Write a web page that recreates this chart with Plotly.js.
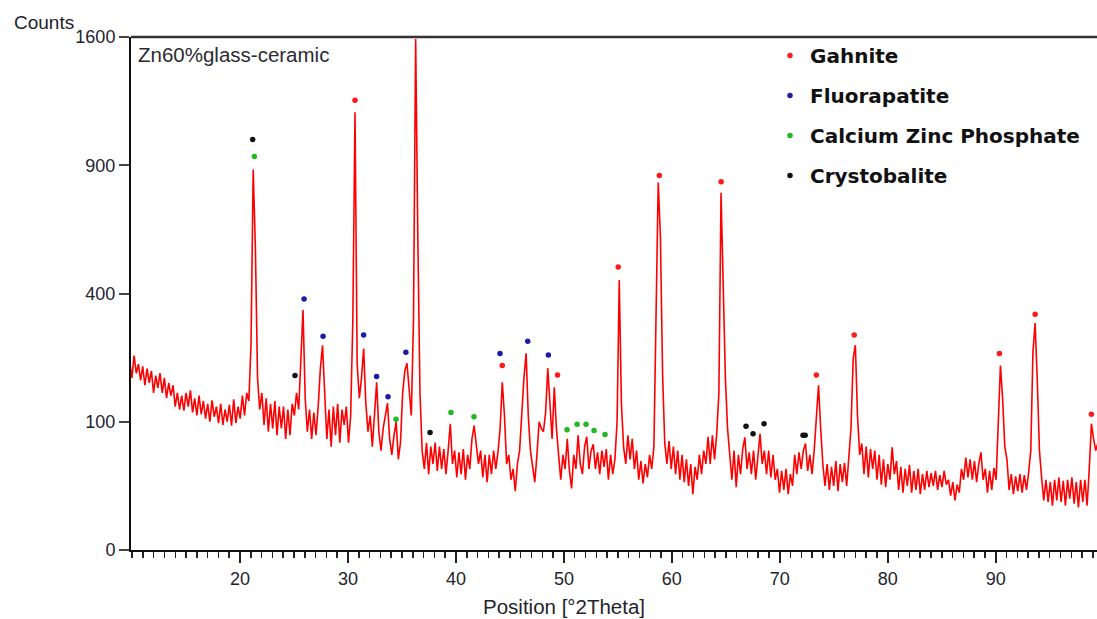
<!DOCTYPE html>
<html>
<head>
<meta charset="utf-8">
<script src="https://cdn.plot.ly/plotly-3.0.1.min.js"></script>
<style>
  html, body { margin: 0; padding: 0; background: #ffffff; }
  #chart { width: 1097px; height: 619px; }
</style>
</head>
<body>
<div id="chart"></div>
<script>
// Measurement grid (°2Theta) of the scan
const twoThetaStart = 9.7835;
const twoThetaStep = 0.20063;

// Counts, one per grid step
const counts = [
  215,180,230,190,210, 175,205,165,200,170, 195,150,185,160,190, 150,180,140,170,145,
  165,125,150,120,145, 118,150,125,155,115, 140,110,145,112,135, 105,130,100,136,108,
  125,98,130,95,120,   100,128,94,138,98,   125,105,145,110,150, 135,260,880,560,180,
  120,150,95,140,85,   130,90,135,80,125,   90,125,75,120,80,    130,110,150,120,240,
  350,140,85,120,75,   115,80,125,200,255,  140,75,120,65,125,   80,130,70,120,95,
  125,70,110,320,1165, 210,140,180,247,130, 85,110,65,110,171,   85,60,90,110,131,
  75,55,80,100,50,     70,150,195,212,150,  110,320,1588,600,150, 60,40,70,35,65,
  45,70,38,65,40,      62,35,60,97,45,      60,32,58,35,62,      30,55,40,75,94,
  65,45,60,32,55,      28,55,35,60,40,      58,90,171,110,45,    55,30,40,21,45,
  60,120,180,235,110,  60,40,28,55,100,     90,85,115,201,130,   75,161,90,55,30,
  55,40,75,38,23,      55,40,80,45,35,      65,78,40,60,68,      40,58,35,60,42,
  62,30,55,35,50,      100,443,130,65,45,   80,50,75,40,60,      30,48,27,45,32,
  55,40,65,420,821,    600,190,70,45,72,    40,65,35,60,30,      55,28,50,25,45,
  19,42,30,55,35,      60,45,78,45,80,      50,82,150,776,430,   180,90,55,30,60,
  24,55,35,62,77,      40,58,35,60,30,      50,82,45,60,35,      60,32,55,30,40,
  20,38,22,40,19,      35,25,55,35,58,      40,60,69,38,55,      35,60,110,165,90,
  45,25,45,22,42,      25,48,21,45,28,      46,25,50,90,223,     255,110,55,69,35,
  65,32,62,40,60,      30,55,26,50,24,      45,30,64,35,48,      22,42,20,40,25,
  44,20,38,22,40,      19,35,22,38,24,      36,25,38,22,34,      24,38,26,30,18,
  28,15,26,20,40,      30,52,32,50,30,      48,28,45,58,30,      40,20,38,22,41,
  30,100,207,140,65,   50,22,35,19,33,      21,35,20,34,22,      36,60,238,313,175,
  60,32,15,30,14,      28,12,30,15,32,      14,29,12,30,16,      32,13,28,11,30,
  14,30,12,40,97,      75,60,70
];

// Phase markers (position °2Theta, counts)
const gahniteTheta  = [30.65, 36.22, 44.29, 49.41, 55.03, 58.84, 64.56, 73.38, 76.89, 90.34, 93.65, 98.86];
const gahniteCounts = [1230, 1663, 207, 186, 487, 853, 825, 186, 281, 235, 338, 112];

const fluorTheta  = [25.93, 27.69, 31.45, 32.65, 33.71, 35.36, 44.08, 46.65, 48.56];
const fluorCounts = [383, 278, 281, 183, 143, 238, 235, 265, 231];

const czpTheta  = [21.33, 34.45, 39.54, 41.67, 50.29, 51.22, 52.05, 52.79, 53.81];
const czpCounts = [941, 104, 115, 108, 88, 96, 96, 87, 81];

const crystTheta  = [21.17, 25.09, 37.6, 66.87, 67.52, 68.54, 72.15, 72.35];
const crystCounts = [1025, 185, 84, 93, 82, 97, 80, 80];

// Axis ticks
const yTickCounts = [0, 100, 400, 900, 1600];
const xTickVals = [20, 30, 40, 50, 60, 70, 80, 90];

// ---- build ----
const twoTheta = counts.map((_, i) => +(twoThetaStart + i * twoThetaStep).toFixed(3));
const sq = a => a.map(v => Math.sqrt(v));   // square-root intensity scale

const textFont = 'Liberation Sans, Arial, sans-serif';
const textColor = '#23232e';

function phaseTrace(name, xs, ys, color, grp) {
  return {
    type: 'scatter', mode: 'markers', name: name,
    x: xs, y: sq(ys), legendgroup: grp,
    marker: { size: 5.5, color: color },
    cliponaxis: false, hoverinfo: 'skip'
  };
}

const traces = [
  {
    type: 'scatter', mode: 'lines', name: 'Zn60%glass-ceramic',
    x: twoTheta, y: sq(counts), showlegend: false,
    line: { color: '#ff0000', width: 1.6 }, hoverinfo: 'skip'
  },
  phaseTrace('Gahnite', gahniteTheta, gahniteCounts, '#ff1a1a', 'g1'),
  phaseTrace('Fluorapatite', fluorTheta, fluorCounts, '#1c1ca8', 'g2'),
  phaseTrace('Calcium Zinc Phosphate', czpTheta, czpCounts, '#22b822', 'g3'),
  phaseTrace('Crystobalite', crystTheta, crystCounts, '#111111', 'g4')
];

const W = 1097, H = 619, L = 131, R = 0, T = 37, B = 69;
const pw = W - L - R, ph = H - T - B;
const px2x = p => (p - L) / pw;
const py2y = p => 1 - (p - T) / ph;

const layout = {
  width: W, height: H,
  margin: { l: L, r: R, t: T, b: B, pad: 0 },
  paper_bgcolor: '#ffffff', plot_bgcolor: '#ffffff',
  showlegend: true,
  legend: {
    x: px2x(770), xanchor: 'left', y: py2y(36), yanchor: 'top',
    bgcolor: 'rgba(0,0,0,0)', borderwidth: 0,
    font: { family: 'DejaVu Sans, sans-serif', size: 20, weight: 'bold', color: '#111111' },
    tracegroupgap: 11, traceorder: 'grouped', itemsizing: 'trace'
  },
  xaxis: {
    range: [9.9, 99.38], showgrid: false, zeroline: false,
    showline: true, linecolor: '#111111', linewidth: 2,
    tickmode: 'array', tickvals: xTickVals,
    ticks: 'outside', ticklen: 11, tickwidth: 2, tickcolor: '#222222',
    minor: { dtick: 1, tick0: 0, ticks: 'outside', ticklen: 6, tickwidth: 1.5, tickcolor: '#222222', showgrid: false },
    tickfont: { family: textFont, size: 18, color: textColor }
  },
  yaxis: {
    range: [0, 40], showgrid: false, zeroline: false,
    showline: true, linecolor: '#111111', linewidth: 2,
    tickmode: 'array', tickvals: sq(yTickCounts), ticktext: yTickCounts.map(String),
    ticks: 'outside', ticklen: 10, tickwidth: 2, tickcolor: '#444444',
    tickfont: { family: textFont, size: 18, color: textColor }
  },
  shapes: [
    { type: 'line', xref: 'paper', yref: 'paper', x0: 0, x1: 1, y0: 1, y1: 1,
      line: { color: '#333333', width: 2.5 } }
  ],
  annotations: [
    { text: 'Counts', xref: 'paper', yref: 'paper', x: px2x(12), y: py2y(22),
      xanchor: 'left', yanchor: 'middle', showarrow: false,
      font: { family: textFont, size: 19, color: textColor } },
    { text: 'Zn60%glass-ceramic', xref: 'paper', yref: 'paper', x: px2x(136), y: py2y(54),
      xanchor: 'left', yanchor: 'middle', showarrow: false,
      font: { family: textFont, size: 20.5, color: '#2b2b33' } },
    { text: 'Position [°2Theta]', xref: 'paper', yref: 'paper', x: px2x(564), y: py2y(606),
      xanchor: 'center', yanchor: 'middle', showarrow: false,
      font: { family: textFont, size: 20.5, color: textColor } }
  ]
};

Plotly.newPlot('chart', traces, layout, { displayModeBar: false, staticPlot: true });
</script>
</body>
</html>
